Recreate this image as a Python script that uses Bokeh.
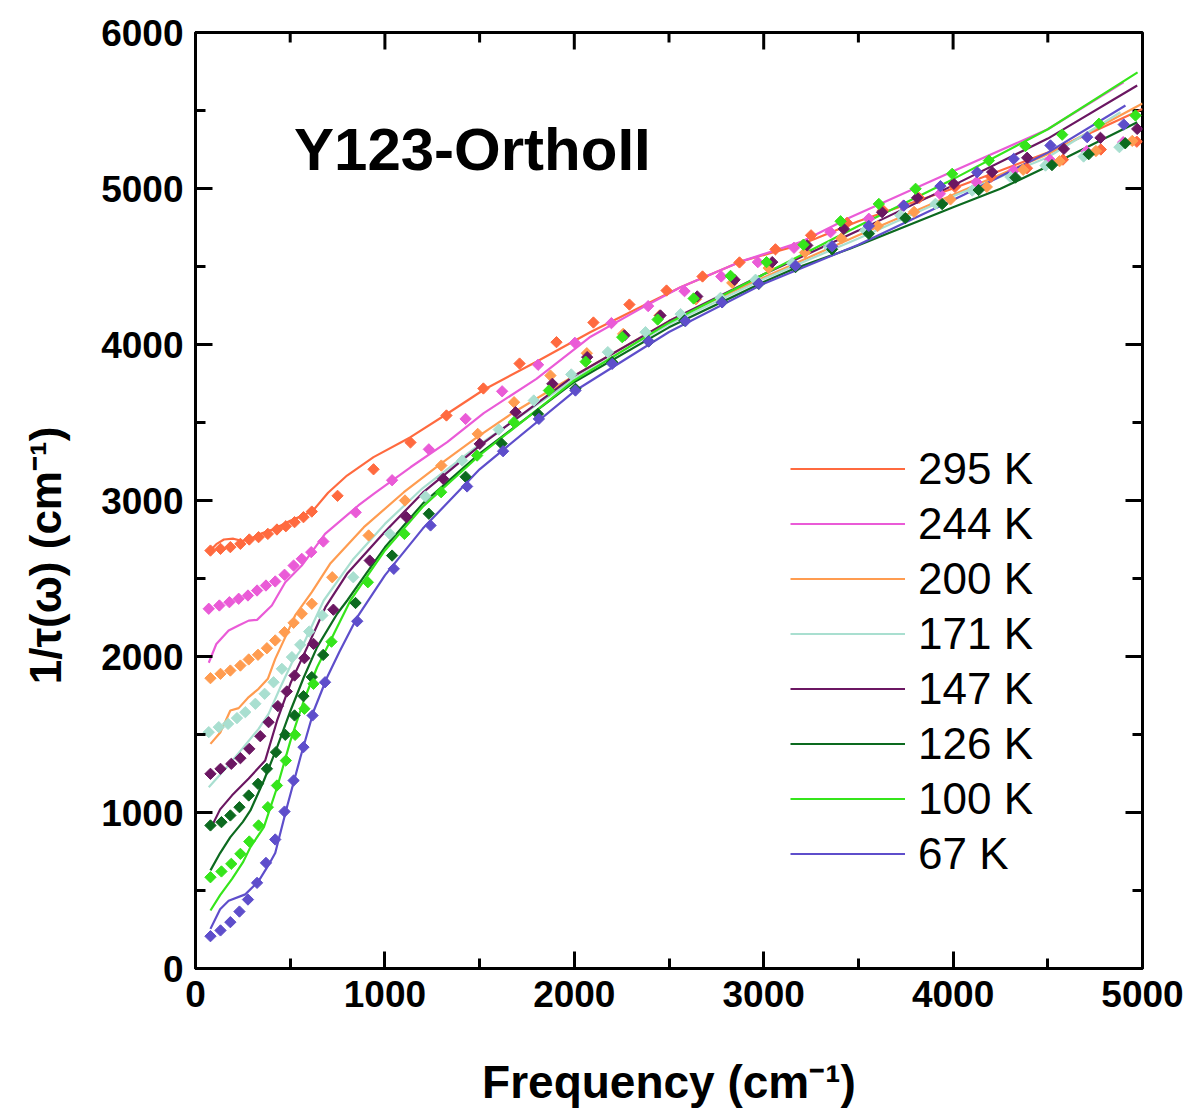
from math import pi
from bokeh.plotting import figure
from bokeh.models import Range1d, SingleIntervalTicker, Label, Legend, LegendItem
from bokeh.embed import file_html
from bokeh.resources import INLINE

# ---------------- data ----------------
temps = ["295 K", "244 K", "200 K", "171 K", "147 K", "126 K", "100 K", "67 K"]
colors = ["#FF6A3F", "#EA5BD7", "#FF9C50", "#A9DFD0", "#6B1762", "#0C6A1F", "#35E51B", "#5E4ECB"]

# markers (data)
mx_295 = [79,132,184,237,284,333,382,430,477,523,570,614,750,940,1135,1325,1520,1711,1906,2101,2291,2487,2677,2872,3062,3250,3440,3630,3820,4010,4200,4390,4580,4780,4970]
my_295 = [2679,2690,2701,2722,2750,2765,2786,2814,2835,2861,2893,2929,3030,3200,3372,3545,3718,3878,4015,4141,4256,4346,4436,4526,4610,4700,4780,4860,4940,5010,5075,5130,5185,5250,5300]
mx_244 = [70,126,179,228,277,325,372,421,470,518,561,611,675,846,1038,1232,1426,1619,1809,2003,2196,2390,2582,2776,2969,3160,3353,3555,3738,3930,4123,4320,4511,4704,4898]
my_244 = [2306,2327,2348,2370,2391,2423,2455,2481,2524,2583,2626,2669,2737,2924,3130,3328,3523,3700,3870,4011,4137,4246,4342,4436,4528,4620,4720,4806,4891,4966,5041,5115,5184,5239,5297]
mx_200 = [79,132,184,237,281,330,377,421,470,518,561,614,722,914,1106,1298,1490,1682,1874,2066,2258,2450,2642,2834,3026,3218,3410,3602,3794,3986,4178,4370,4562,4754,4946]
my_200 = [1861,1889,1910,1942,1981,2011,2053,2103,2156,2216,2274,2338,2508,2776,3000,3224,3427,3630,3801,3944,4068,4186,4290,4395,4490,4590,4680,4760,4850,4930,5010,5120,5175,5240,5305]
mx_171 = [70,123,172,219,263,316,365,412,456,509,553,600,670,833,1026,1214,1408,1601,1786,1984,2177,2376,2561,2772,2957,3150,3344,3537,3722,3907,4101,4303,4488,4689,4878]
my_171 = [1515,1547,1568,1605,1643,1697,1761,1835,1921,1996,2075,2160,2263,2508,2786,3026,3256,3455,3641,3808,3951,4079,4195,4299,4415,4521,4624,4731,4827,4902,4987,5073,5147,5205,5265]
mx_147 = [79,132,189,237,284,342,386,435,482,523,575,623,728,920,1114,1308,1501,1690,1884,2068,2265,2455,2649,2846,3045,3230,3423,3625,3810,4004,4206,4391,4585,4778,4972]
my_147 = [1248,1280,1312,1348,1408,1489,1579,1682,1776,1878,1989,2081,2300,2615,2893,3139,3363,3566,3748,3919,4058,4186,4308,4415,4528,4635,4741,4848,4940,5030,5105,5197,5254,5325,5382]
mx_126 = [79,137,184,232,281,330,377,425,474,523,570,614,674,845,1038,1232,1426,1616,1808,2006,2200,2393,2582,2781,2974,3168,3361,3555,3748,3942,4135,4329,4522,4716,4909]
my_126 = [917,938,981,1034,1109,1184,1280,1387,1498,1622,1746,1868,2010,2343,2647,2915,3152,3365,3555,3716,3887,4021,4154,4271,4389,4496,4610,4710,4810,4900,4990,5070,5150,5220,5290]
mx_100 = [79,137,189,237,284,333,382,430,477,526,575,623,718,910,1103,1297,1487,1681,1866,2060,2253,2440,2630,2825,3015,3210,3406,3608,3802,3995,4189,4382,4576,4770,4963]
my_100 = [585,622,671,735,814,917,1034,1173,1333,1498,1665,1825,2095,2476,2786,3053,3288,3502,3705,3890,4047,4160,4295,4440,4528,4640,4790,4901,4998,5094,5179,5272,5345,5415,5468]
mx_67 = [79,132,184,232,277,325,372,421,470,518,570,618,684,854,1047,1241,1434,1624,1813,2006,2200,2393,2587,2780,2974,3168,3361,3555,3740,3933,4127,4320,4514,4708,4901]
my_67 = [207,244,297,365,442,549,677,827,1006,1205,1419,1622,1835,2226,2562,2840,3090,3316,3523,3705,3876,4020,4150,4270,4390,4505,4630,4760,4890,5015,5104,5190,5276,5329,5410]

# lines (fits)
lx_295 = [70,110,150,200,250,300,350,400,450,500,550,620,700,800,940,1135,1329,1522,1800,2086,2350,2561,2877,3194,3500,4000,4500,5000]
ly_295 = [2670,2720,2750,2755,2740,2760,2790,2810,2840,2870,2895,2935,3050,3160,3278,3406,3556,3710,3890,4080,4240,4367,4531,4640,4790,5000,5230,5510]
lx_244 = [70,110,175,230,281,325,403,474,561,684,860,941,1135,1329,1522,1800,2086,2350,2561,2877,3194,3458,4000,4500,4900]
ly_244 = [1960,2080,2167,2200,2230,2235,2327,2476,2583,2786,2968,3043,3213,3374,3560,3780,4050,4230,4367,4531,4656,4816,5110,5380,5680]
lx_200 = [79,132,184,228,281,333,382,421,482,526,614,713,889,1100,1294,1487,1681,2000,2500,3000,3500,4000,4500,5000]
ly_200 = [1440,1515,1654,1669,1740,1793,1857,1985,2145,2263,2413,2598,2829,3053,3235,3406,3566,3800,4150,4430,4700,4960,5220,5545]
lx_171 = [70,158,246,333,386,447,509,554,677,830,1000,1200,1500,2000,2500,3000,3500,4000,4500,4884]
ly_171 = [1162,1280,1408,1536,1632,1800,1960,2038,2359,2620,2850,3080,3360,3780,4130,4420,4680,4950,5200,5489]
lx_147 = [79,130,193,281,368,431,502,590,686,800,1000,1200,1500,2000,2500,3000,3500,4000,4500,4972]
ly_147 = [895,1020,1110,1218,1333,1590,1830,2060,2316,2530,2800,3050,3350,3800,4150,4450,4730,5020,5320,5660]
lx_126 = [79,130,184,250,290,361,431,502,572,642,748,801,900,1000,1200,1500,2000,2500,3000,3160,3458,4000,4250,4600,4972]
ly_126 = [629,740,842,940,1013,1205,1419,1654,1867,2060,2274,2359,2530,2700,2980,3300,3760,4110,4400,4485,4615,4880,4998,5200,5425]
lx_100 = [79,130,193,250,290,361,431,502,572,642,713,818,1000,1200,1500,2000,2500,3000,3500,4000,4500,4974]
ly_100 = [372,470,575,680,778,906,1162,1462,1718,1931,2103,2359,2680,2960,3290,3770,4140,4450,4760,5060,5380,5744]
lx_67 = [79,130,175,263,333,386,421,484,554,625,695,760,854,1000,1200,1500,2000,2500,3000,3500,4057,4500,4910]
ly_67 = [254,380,434,475,560,664,740,1040,1354,1654,1867,2030,2252,2520,2820,3200,3700,4080,4390,4640,4960,5230,5532]

x_major = [0, 1000, 2000, 3000, 4000, 5000]
y_major = [0, 1000, 2000, 3000, 4000, 5000, 6000]
X0, X1, Y0, Y1 = 0, 5000, 0, 6000

markers = [(mx_295, my_295), (mx_244, my_244), (mx_200, my_200), (mx_171, my_171),
           (mx_147, my_147), (mx_126, my_126), (mx_100, my_100), (mx_67, my_67)]
lines = [(lx_295, ly_295), (lx_244, ly_244), (lx_200, ly_200), (lx_171, ly_171),
         (lx_147, ly_147), (lx_126, ly_126), (lx_100, ly_100), (lx_67, ly_67)]

FONT = "Liberation Sans"
W, H = 1187, 1110
ML, MR, MT, MB = 195, 45, 32, 142

p = figure(width=W, height=H, x_range=Range1d(X0, X1), y_range=Range1d(Y0, Y1),
           output_backend="svg", toolbar_location=None,
           min_border_left=ML, min_border_right=MR, min_border_top=MT, min_border_bottom=MB)
p.xgrid.visible = False
p.ygrid.visible = False
p.outline_line_color = "black"
p.outline_line_width = 3
p.background_fill_color = "white"

# pixel -> data conversions for the mirrored (top / right) inward ticks
px_per_x = (W - ML - MR) / (X1 - X0)
px_per_y = (H - MT - MB) / (Y1 - Y0)
MAJ, MIN = 17, 10


def style_axis(ax):
    ax.axis_line_width = 3
    ax.axis_line_color = "black"
    ax.major_tick_line_width = 3
    ax.minor_tick_line_width = 3
    ax.major_tick_in = MAJ
    ax.major_tick_out = 0
    ax.minor_tick_in = MIN
    ax.minor_tick_out = 0
    ax.major_label_text_font = FONT
    ax.major_label_text_font_style = "bold"
    ax.major_label_text_font_size = "37px"
    ax.major_label_text_color = "black"
    ax.major_label_standoff = 12
    ax.axis_label_text_font = FONT
    ax.axis_label_text_font_style = "bold"
    ax.axis_label_text_color = "black"


p.xaxis.ticker = SingleIntervalTicker(interval=1000, num_minor_ticks=2)
p.yaxis.ticker = SingleIntervalTicker(interval=1000, num_minor_ticks=2)
style_axis(p.xaxis[0])
style_axis(p.yaxis[0])
p.xaxis.axis_label = "Frequency (cm⁻¹)"
p.xaxis.axis_label_text_font_size = "46px"
p.xaxis.axis_label_standoff = 46
# trailing no-break spaces shift the visible text down along the axis, as in the reference
p.yaxis.axis_label = "1/τ(ω) (cm⁻¹)" + "\u00a0" * 9
p.yaxis.axis_label_text_font_size = "44px"
p.yaxis.axis_label_standoff = 28

# mirrored ticks on top and right (inward), built from the tick values
top_major = x_major[1:-1]
top_minor = [v + 500 for v in x_major[:-1]]
right_major = y_major[1:-1]
right_minor = [v + 500 for v in y_major[:-1]]
p.segment(x0=top_major, x1=top_major, y0=[Y1] * len(top_major),
          y1=[Y1 - MAJ / px_per_y] * len(top_major), line_color="black", line_width=3)
p.segment(x0=top_minor, x1=top_minor, y0=[Y1] * len(top_minor),
          y1=[Y1 - MIN / px_per_y] * len(top_minor), line_color="black", line_width=3)
p.segment(x0=[X1] * len(right_major), x1=[X1 - MAJ / px_per_x] * len(right_major),
          y0=right_major, y1=right_major, line_color="black", line_width=3)
p.segment(x0=[X1] * len(right_minor), x1=[X1 - MIN / px_per_x] * len(right_minor),
          y0=right_minor, y1=right_minor, line_color="black", line_width=3)

line_renderers = []
for (lx, ly), c in zip(lines, colors):
    r = p.line(lx, ly, line_color=c, line_width=2.2)
    line_renderers.append(r)
for (mx, my), c in zip(markers, colors):
    p.scatter(mx, my, marker="square", angle=pi / 4, size=8, fill_color=c, line_color=c)

legend = Legend(items=[LegendItem(label=t, renderers=[r]) for t, r in zip(temps, line_renderers)],
                location=(595, 87), glyph_width=115, glyph_height=55, label_height=55,
                label_standoff=13, spacing=0, padding=0, margin=0,
                border_line_color=None, background_fill_alpha=0,
                label_text_font=FONT, label_text_font_size="44px", label_text_color="black")
p.add_layout(legend)

p.add_layout(Label(x=520, y=5250, text="Y123-OrthoII", text_font=FONT, text_font_style="bold",
                   text_font_size="60px", text_baseline="alphabetic", text_align="left",
                   text_color="black"))

open("out.html", "w").write(file_html(p, INLINE))
